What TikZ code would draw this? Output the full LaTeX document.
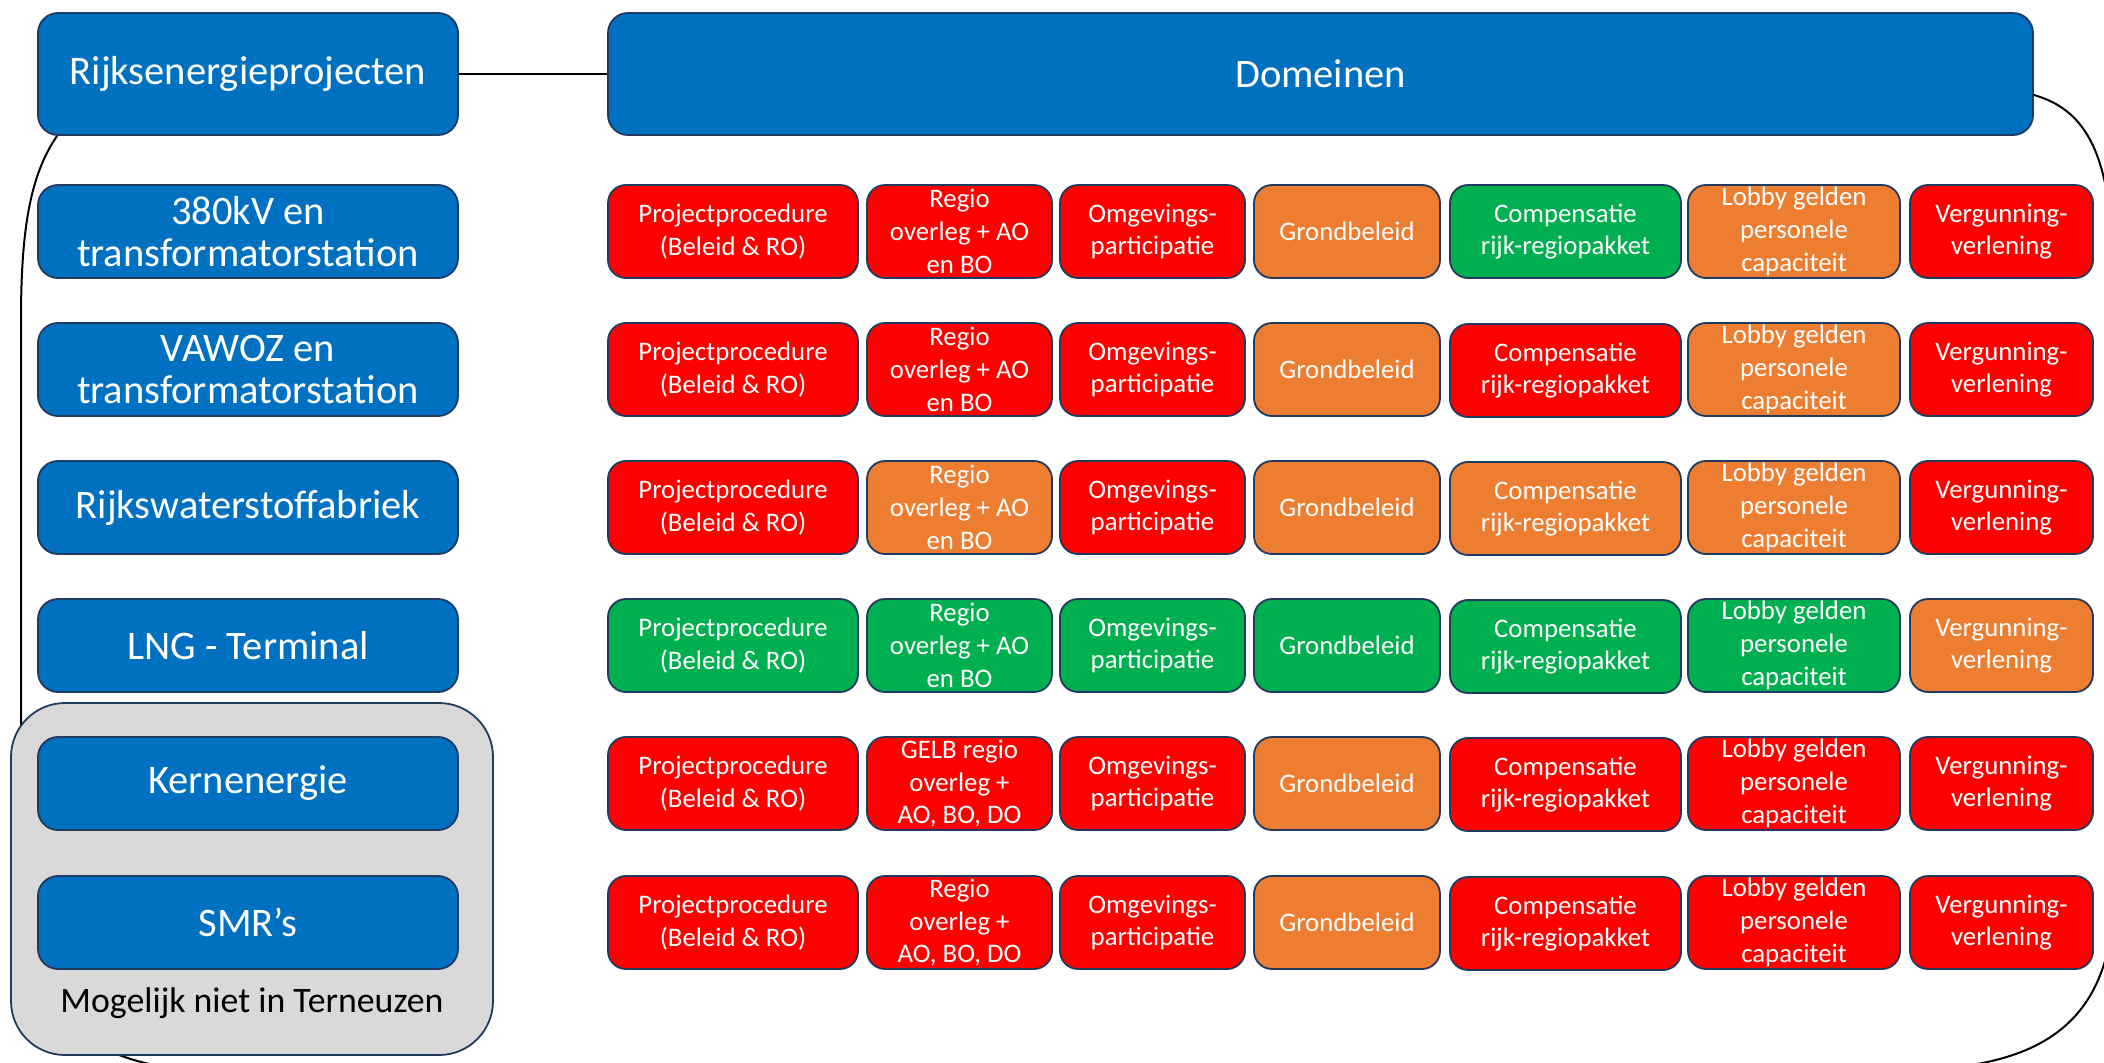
\documentclass[tikz,border=0pt]{standalone}
\usepackage{fontspec}
\setmainfont{Carlito}
\usetikzlibrary{calc}
\definecolor{cBlue}{HTML}{0070C0}
\definecolor{cR}{HTML}{FF0000}
\definecolor{cO}{HTML}{ED7D31}
\definecolor{cG}{HTML}{00B050}
\definecolor{cEdge}{HTML}{203A60}
\definecolor{cGrey}{HTML}{D9D9D9}
\begin{document}
\begin{tikzpicture}[x=0.5pt,y=-0.5pt,
  box/.style={draw=cEdge, line width=0.9pt, rounded corners=10pt, inner sep=0pt, align=center, text=white},
  big/.style={box, fill=cBlue, font=\fontsize{20.25}{21}\selectfont, minimum width=210pt, minimum height=46.5pt},
  head/.style={big, minimum height=61pt},
  cell/.style={box, rounded corners=9pt, font=\fontsize{13.4}{16.4}\selectfont, minimum height=46.5pt},
  c1/.style={cell, minimum width=125pt},
  c2/.style={cell, minimum width=92.5pt},
  c3/.style={cell, minimum width=92.5pt},
  c4/.style={cell, minimum width=93pt},
  c5/.style={cell, minimum width=115.5pt},
  c6/.style={cell, minimum width=106pt},
  c7/.style={cell, minimum width=91.5pt},
  conn/.style={draw=black, line width=1pt},
  group/.style={draw=cEdge, line width=0.9pt, fill=cGrey, rounded corners=27pt, minimum width=241pt, minimum height=176pt, inner sep=0pt}
]
\clip (0,0) rectangle (2104,1062);
\fill[white] (0,0) rectangle (2104,1062);

% header nodes
\node[head] (rijks) at (248,74) {Rijksenergieprojecten};
\node[head, minimum width=712.5pt] (dom) at (1320.5,74) {Domeinen};

% loop connector
\draw[conn] ($(rijks.south west)+(20,0)$) .. controls (30,175) and (21,230) .. (21,320)
  -- (21,900) .. controls (21,1000) and (80,1066) .. (200,1070)
  -- (1900,1070) .. controls (2060,1070) and (2115,1010) .. (2115,880)
  -- (2115,330) .. controls (2115,190) and (2105,115) .. ($(dom.east)+(0,21)$);
\draw[conn] (rijks.east) -- (dom.west);

% grey group
\node[group] (grp) at (252,879) {};
\node[font=\fontsize{17.9}{21}\selectfont, text=black, inner sep=0pt] (grptxt) at (252,1003) {Mogelijk niet in Terneuzen};

% left project boxes
\node[big] (p1) at (248,231.5) {380kV en\\transformatorstation};
\node[big] (p2) at (248,369.5) {VAWOZ en\\transformatorstation};
\node[big] (p3) at (248,507.5) {Rijkswaterstoffabriek};
\node[big] (p4) at (248,645.5) {LNG - Terminal};
\node[big] (p5) at (248,783.5) {Kernenergie};
\node[big] (p6) at (248,922.5) {SMR’s};

% row 1
\node[c1, fill=cR] (r1c1) at (733,231.5) {Projectprocedure\\(Beleid \& RO)};
\node[c2, fill=cR] (r1c2) at (959.5,231.5) {Regio\\overleg + AO\\en BO};
\node[c3, fill=cR] (r1c3) at (1152.5,231.5) {Omgevings-\\participatie};
\node[c4, fill=cO] (r1c4) at (1347,231.5) {Grondbeleid};
\node[c5, fill=cG] (r1c5) at (1565.5,231.5) {Compensatie\\rijk-regiopakket};
\node[c6, fill=cO] (r1c6) at (1794,231.5) {Lobby gelden\\personele\\capaciteit};
\node[c7, fill=cR] (r1c7) at (2001.5,231.5) {Vergunning-\\verlening};
% row 2
\node[c1, fill=cR] (r2c1) at (733,369.5) {Projectprocedure\\(Beleid \& RO)};
\node[c2, fill=cR] (r2c2) at (959.5,369.5) {Regio\\overleg + AO\\en BO};
\node[c3, fill=cR] (r2c3) at (1152.5,369.5) {Omgevings-\\participatie};
\node[c4, fill=cO] (r2c4) at (1347,369.5) {Grondbeleid};
\node[c5, fill=cR] (r2c5) at (1565.5,370.5) {Compensatie\\rijk-regiopakket};
\node[c6, fill=cO] (r2c6) at (1794,369.5) {Lobby gelden\\personele\\capaciteit};
\node[c7, fill=cR] (r2c7) at (2001.5,369.5) {Vergunning-\\verlening};
% row 3
\node[c1, fill=cR] (r3c1) at (733,507.5) {Projectprocedure\\(Beleid \& RO)};
\node[c2, fill=cO] (r3c2) at (959.5,507.5) {Regio\\overleg + AO\\en BO};
\node[c3, fill=cR] (r3c3) at (1152.5,507.5) {Omgevings-\\participatie};
\node[c4, fill=cO] (r3c4) at (1347,507.5) {Grondbeleid};
\node[c5, fill=cO] (r3c5) at (1565.5,508.5) {Compensatie\\rijk-regiopakket};
\node[c6, fill=cO] (r3c6) at (1794,507.5) {Lobby gelden\\personele\\capaciteit};
\node[c7, fill=cR] (r3c7) at (2001.5,507.5) {Vergunning-\\verlening};
% row 4
\node[c1, fill=cG] (r4c1) at (733,645.5) {Projectprocedure\\(Beleid \& RO)};
\node[c2, fill=cG] (r4c2) at (959.5,645.5) {Regio\\overleg + AO\\en BO};
\node[c3, fill=cG] (r4c3) at (1152.5,645.5) {Omgevings-\\participatie};
\node[c4, fill=cG] (r4c4) at (1347,645.5) {Grondbeleid};
\node[c5, fill=cG] (r4c5) at (1565.5,646.5) {Compensatie\\rijk-regiopakket};
\node[c6, fill=cG] (r4c6) at (1794,645.5) {Lobby gelden\\personele\\capaciteit};
\node[c7, fill=cO] (r4c7) at (2001.5,645.5) {Vergunning-\\verlening};
% row 5
\node[c1, fill=cR] (r5c1) at (733,783.5) {Projectprocedure\\(Beleid \& RO)};
\node[c2, fill=cR] (r5c2) at (959.5,783.5) {GELB regio\\overleg +\\AO, BO, DO};
\node[c3, fill=cR] (r5c3) at (1152.5,783.5) {Omgevings-\\participatie};
\node[c4, fill=cO] (r5c4) at (1347,783.5) {Grondbeleid};
\node[c5, fill=cR] (r5c5) at (1565.5,784.5) {Compensatie\\rijk-regiopakket};
\node[c6, fill=cR] (r5c6) at (1794,783.5) {Lobby gelden\\personele\\capaciteit};
\node[c7, fill=cR] (r5c7) at (2001.5,783.5) {Vergunning-\\verlening};
% row 6
\node[c1, fill=cR] (r6c1) at (733,922.5) {Projectprocedure\\(Beleid \& RO)};
\node[c2, fill=cR] (r6c2) at (959.5,922.5) {Regio\\overleg +\\AO, BO, DO};
\node[c3, fill=cR] (r6c3) at (1152.5,922.5) {Omgevings-\\participatie};
\node[c4, fill=cO] (r6c4) at (1347,922.5) {Grondbeleid};
\node[c5, fill=cR] (r6c5) at (1565.5,923.5) {Compensatie\\rijk-regiopakket};
\node[c6, fill=cR] (r6c6) at (1794,922.5) {Lobby gelden\\personele\\capaciteit};
\node[c7, fill=cR] (r6c7) at (2001.5,922.5) {Vergunning-\\verlening};
\end{tikzpicture}
\end{document}
